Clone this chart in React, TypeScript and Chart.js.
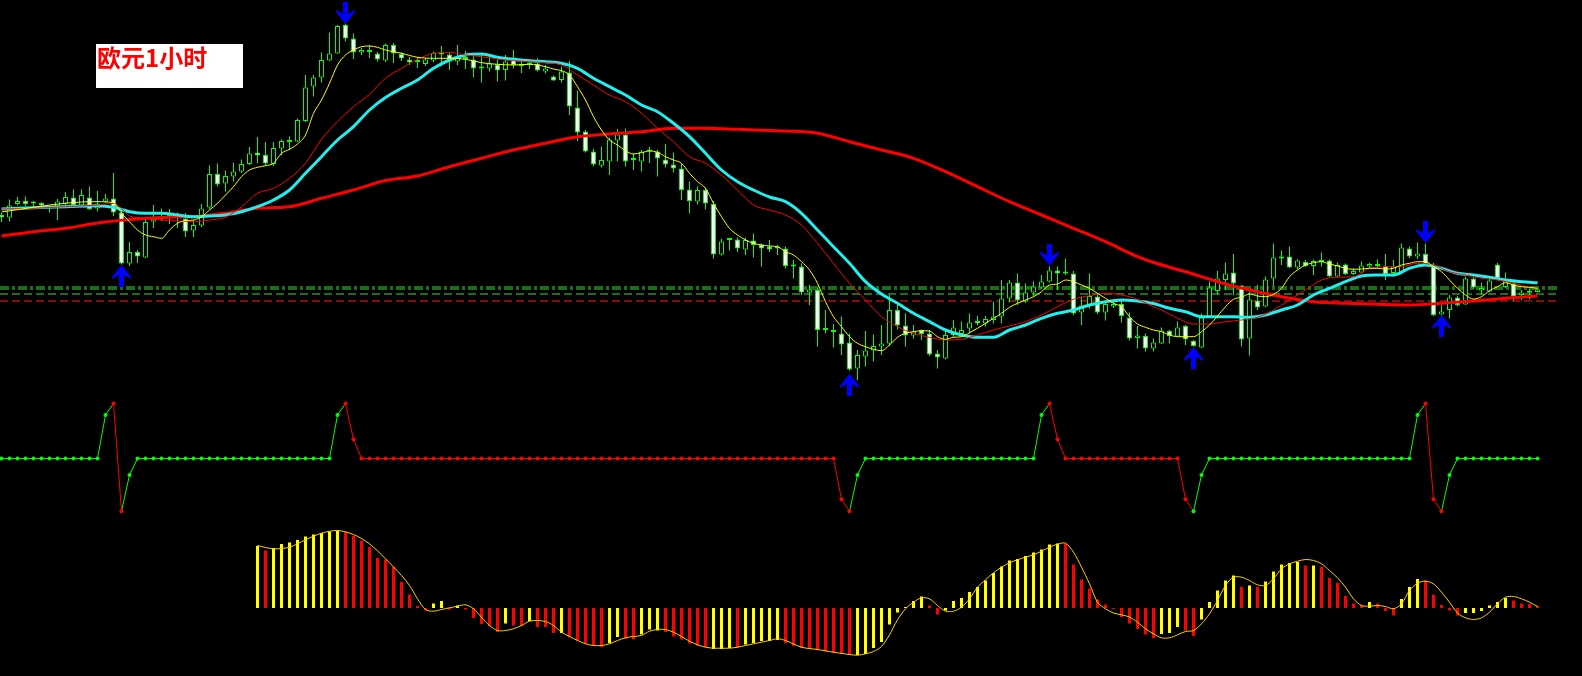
import React, { useEffect, useRef } from 'react';
import Chart from 'chart.js/auto';

const W = 1582;
const H = 676;
const X_MIN = -0.1875;
const X_MAX = 197.5625;

// EUR/USD 1H candles
const open = [
  1.1785, 1.17825, 1.1796, 1.1799, 1.17975, 1.1797, 1.17925, 1.17935, 1.17965, 1.18025,
  1.17945, 1.18025, 1.17915, 1.17985, 1.18015, 1.17875, 1.17365, 1.1748, 1.17425, 1.17785,
  1.17805, 1.1784, 1.1782, 1.17815, 1.17695, 1.17745, 1.17925, 1.1826, 1.18165, 1.18235,
  1.18285, 1.1836, 1.18475, 1.1845, 1.1836, 1.18515, 1.1858, 1.18585, 1.1879, 1.19135,
  1.19225, 1.19395, 1.19465, 1.1975, 1.19615, 1.19475, 1.19485, 1.19465, 1.19395, 1.1955,
  1.1946, 1.19405, 1.19385, 1.1936, 1.19395, 1.19475, 1.19455, 1.19385, 1.19415, 1.19405,
  1.1932, 1.19315, 1.19355, 1.193, 1.19425, 1.1934, 1.19355, 1.19365, 1.19285, 1.19235,
  1.192, 1.19275, 1.18925, 1.18685, 1.18485, 1.18345, 1.18385, 1.18595, 1.18655, 1.18405,
  1.18385, 1.18485, 1.18485, 1.18405, 1.18355, 1.18315, 1.18105, 1.17985, 1.181, 1.1796,
  1.17455, 1.176, 1.17605, 1.17505, 1.17595, 1.17555, 1.17535, 1.1752, 1.17515, 1.1734,
  1.17335, 1.17075, 1.171, 1.16705, 1.16685, 1.16665, 1.16575, 1.16315, 1.16435, 1.16495,
  1.16535, 1.16565, 1.169, 1.16745, 1.16645, 1.167, 1.16665, 1.16465, 1.16415, 1.1665,
  1.1666, 1.16715, 1.1679, 1.16765, 1.168, 1.16835, 1.17015, 1.17175, 1.16985, 1.17075,
  1.17125, 1.17185, 1.17295, 1.17285, 1.17265, 1.16875, 1.1694, 1.17035, 1.16875, 1.16935,
  1.1696, 1.16825, 1.1662, 1.1664, 1.16515, 1.16565, 1.1669, 1.16635, 1.1674, 1.1659,
  1.16525, 1.16825, 1.1709, 1.172, 1.17275, 1.17145, 1.16615, 1.16995, 1.16935, 1.17215,
  1.17415, 1.17435, 1.17325, 1.1738, 1.1734, 1.1738, 1.17395, 1.17235, 1.17355, 1.1726,
  1.17275, 1.17335, 1.1734, 1.1734, 1.1727, 1.17275, 1.17515, 1.17435, 1.1746, 1.1735,
  1.16855, 1.169, 1.17025, 1.16955, 1.17215, 1.17095, 1.17085, 1.17355, 1.1713, 1.17165,
  1.1705, 1.17075, 1.1708,
];
const high = [
  1.1787, 1.18005, 1.1803, 1.18035, 1.1799, 1.17975, 1.1794, 1.1801, 1.1808, 1.18105,
  1.18105, 1.18135, 1.1809, 1.1806, 1.1827, 1.17895, 1.1758, 1.175, 1.1783, 1.1795,
  1.17915, 1.1791, 1.17875, 1.1787, 1.178, 1.1796, 1.18345, 1.18365, 1.18295, 1.18375,
  1.18405, 1.1853, 1.1863, 1.1858, 1.1858, 1.18605, 1.18635, 1.18815, 1.1925, 1.1925,
  1.19475, 1.19675, 1.1975, 1.19775, 1.19665, 1.1952, 1.1955, 1.1948, 1.19565, 1.1957,
  1.1948, 1.1943, 1.1943, 1.1942, 1.19485, 1.1954, 1.1947, 1.1955, 1.1949, 1.1944,
  1.19465, 1.1943, 1.194, 1.1945, 1.195, 1.19395, 1.19385, 1.19415, 1.1935, 1.19245,
  1.19335, 1.1939, 1.19095, 1.187, 1.1851, 1.18535, 1.18625, 1.1871, 1.18715, 1.18465,
  1.185, 1.1853, 1.185, 1.1856, 1.18475, 1.18365, 1.18185, 1.18135, 1.18125, 1.1799,
  1.17615, 1.1761, 1.17625, 1.17625, 1.17665, 1.17565, 1.176, 1.1755, 1.17535, 1.174,
  1.17365, 1.1715, 1.17115, 1.169, 1.1676, 1.16835, 1.16665, 1.165, 1.1669, 1.16655,
  1.1675, 1.1705, 1.1696, 1.16865, 1.1675, 1.16705, 1.167, 1.165, 1.16705, 1.168,
  1.16785, 1.16865, 1.1684, 1.1684, 1.16985, 1.172, 1.172, 1.17265, 1.17165, 1.17185,
  1.1725, 1.17335, 1.17335, 1.17415, 1.1729, 1.17035, 1.17265, 1.17065, 1.16985, 1.17,
  1.17, 1.16875, 1.1674, 1.16665, 1.16615, 1.16725, 1.167, 1.16785, 1.1675, 1.166,
  1.16865, 1.17185, 1.1729, 1.17375, 1.1746, 1.1715, 1.17085, 1.1715, 1.17235, 1.17565,
  1.17495, 1.17535, 1.17405, 1.174, 1.17405, 1.17475, 1.17405, 1.17375, 1.17365, 1.17315,
  1.17385, 1.1737, 1.17405, 1.1746, 1.174, 1.17565, 1.17535, 1.17575, 1.17565, 1.1737,
  1.1695, 1.1705, 1.1704, 1.17235, 1.1723, 1.17175, 1.17235, 1.1737, 1.17275, 1.17185,
  1.171, 1.17115, 1.17115,
];
const low = [
  1.1778, 1.17785, 1.1795, 1.1794, 1.1792, 1.1793, 1.17875, 1.178, 1.1794, 1.1794,
  1.1793, 1.179, 1.17885, 1.1797, 1.1784, 1.17355, 1.1734, 1.1737, 1.1742, 1.1772,
  1.1779, 1.1776, 1.1772, 1.1763, 1.1763, 1.1773, 1.1791, 1.18135, 1.18085, 1.18185,
  1.1827, 1.1835, 1.1837, 1.1835, 1.1834, 1.18445, 1.185, 1.1858, 1.1878, 1.19035,
  1.19175, 1.1939, 1.1946, 1.19585, 1.1941, 1.1945, 1.1942, 1.19385, 1.1938, 1.1937,
  1.1939, 1.1935, 1.1932, 1.1934, 1.1938, 1.19335, 1.193, 1.1935, 1.1931, 1.19225,
  1.19175, 1.19285, 1.19185, 1.19195, 1.19315, 1.1927, 1.1931, 1.19285, 1.19265, 1.1919,
  1.19175, 1.1885, 1.1859, 1.18475, 1.1834, 1.18325, 1.1825, 1.18385, 1.18335, 1.183,
  1.18285, 1.1837, 1.18235, 1.18325, 1.18275, 1.18, 1.17865, 1.17955, 1.17905, 1.17415,
  1.17445, 1.17495, 1.1748, 1.1745, 1.17425, 1.17335, 1.1748, 1.1745, 1.17315, 1.17215,
  1.1705, 1.1695, 1.16535, 1.16665, 1.16525, 1.1645, 1.16295, 1.162, 1.16335, 1.16385,
  1.1645, 1.1654, 1.16705, 1.16535, 1.16615, 1.166, 1.1644, 1.16315, 1.16405, 1.1663,
  1.16635, 1.16665, 1.1675, 1.16735, 1.16765, 1.16765, 1.16975, 1.1695, 1.1697, 1.17035,
  1.1711, 1.17175, 1.171, 1.1725, 1.1685, 1.1675, 1.16915, 1.1686, 1.16795, 1.1692,
  1.16775, 1.16595, 1.16515, 1.16485, 1.16485, 1.1656, 1.16565, 1.1663, 1.1655, 1.16535,
  1.1652, 1.1682, 1.17055, 1.171, 1.1705, 1.16535, 1.16445, 1.169, 1.1693, 1.17135,
  1.1735, 1.1732, 1.1731, 1.1733, 1.1725, 1.17335, 1.1723, 1.1723, 1.1725, 1.1725,
  1.1727, 1.1732, 1.1732, 1.172, 1.17235, 1.1727, 1.1742, 1.1741, 1.1735, 1.1684,
  1.1685, 1.16815, 1.16935, 1.1695, 1.1711, 1.1705, 1.1708, 1.172, 1.1712, 1.16995,
  1.17, 1.17005, 1.17075,
];
const close = [
  1.17825, 1.17945, 1.1799, 1.1796, 1.17965, 1.17945, 1.1793, 1.17985, 1.1803, 1.1795,
  1.1805, 1.1791, 1.17965, 1.18015, 1.17875, 1.17365, 1.1748, 1.17435, 1.1778, 1.1781,
  1.1782, 1.1786, 1.1786, 1.17685, 1.1775, 1.17915, 1.1826, 1.18155, 1.1824, 1.18285,
  1.1836, 1.18465, 1.18445, 1.18365, 1.1852, 1.1859, 1.18585, 1.188, 1.19125, 1.19225,
  1.194, 1.19465, 1.1974, 1.19615, 1.19475, 1.195, 1.1948, 1.19405, 1.1955, 1.19465,
  1.19415, 1.19375, 1.1938, 1.19405, 1.1947, 1.19455, 1.19385, 1.19425, 1.1941, 1.19315,
  1.19315, 1.19365, 1.19295, 1.19385, 1.1935, 1.19355, 1.1936, 1.19295, 1.19315, 1.19195,
  1.19285, 1.18935, 1.18675, 1.18485, 1.18355, 1.184, 1.18605, 1.18655, 1.18385, 1.184,
  1.18485, 1.1849, 1.18415, 1.18355, 1.18315, 1.181, 1.1799, 1.181, 1.17965, 1.17455,
  1.17585, 1.17605, 1.17515, 1.176, 1.1755, 1.17515, 1.17505, 1.17515, 1.1734, 1.17335,
  1.17075, 1.17105, 1.167, 1.167, 1.1668, 1.16555, 1.16305, 1.1645, 1.16495, 1.1654,
  1.16565, 1.169, 1.16745, 1.16645, 1.16685, 1.1666, 1.16455, 1.16425, 1.1665, 1.16725,
  1.167, 1.16775, 1.16765, 1.1681, 1.16835, 1.17015, 1.17175, 1.16995, 1.17075, 1.17135,
  1.17185, 1.17295, 1.17265, 1.17265, 1.16865, 1.16945, 1.1704, 1.16875, 1.1696, 1.1696,
  1.1684, 1.16615, 1.16645, 1.16515, 1.16575, 1.16695, 1.1664, 1.16725, 1.16605, 1.1654,
  1.16825, 1.17125, 1.17215, 1.17265, 1.17165, 1.16605, 1.17005, 1.16925, 1.17205, 1.17425,
  1.17435, 1.17325, 1.17395, 1.1734, 1.1739, 1.1739, 1.17235, 1.1735, 1.1726, 1.1729,
  1.17345, 1.1736, 1.17345, 1.1726, 1.17335, 1.17525, 1.17435, 1.17465, 1.1736, 1.1685,
  1.16885, 1.17025, 1.1695, 1.17215, 1.17125, 1.1712, 1.17195, 1.17215, 1.17195, 1.17035,
  1.17075, 1.17072, 1.17105,
];

// Moving averages: [bar index, price]
const maFast = [
  [0, 1.1788], [4, 1.17927], [6, 1.1795], [8, 1.17967], [10, 1.1798], [12, 1.17983], [14, 1.17973], [15, 1.1787],
  [16, 1.17783], [17, 1.177], [18, 1.1765], [19, 1.17633], [20, 1.17617], [21, 1.177], [22, 1.17767], [23, 1.17793],
  [24, 1.178], [25, 1.17833], [26, 1.179], [27, 1.17967], [28, 1.1805], [29, 1.18133], [30, 1.18233], [31, 1.183],
  [32, 1.18327], [33, 1.18343], [34, 1.18367], [35, 1.18467], [36, 1.18507], [37, 1.1856], [38, 1.1865], [39, 1.18867],
  [40, 1.19], [41, 1.19167], [42, 1.1935], [43, 1.1945], [44, 1.195], [45, 1.19533], [46, 1.1954], [47, 1.19527],
  [48, 1.195], [49, 1.19483], [50, 1.19467], [52, 1.19427], [54, 1.19417], [56, 1.19417], [58, 1.19407], [60, 1.19373],
  [62, 1.19357], [64, 1.1935], [66, 1.19357], [68, 1.19333], [69, 1.1931], [70, 1.19293], [71, 1.1925], [72, 1.19133],
  [73, 1.19], [74, 1.18833], [75, 1.187], [76, 1.186], [77, 1.1855], [78, 1.18493], [79, 1.1846], [80, 1.18473],
  [81, 1.1849], [82, 1.18477], [83, 1.18433], [84, 1.184], [85, 1.18367], [86, 1.18267], [87, 1.18183], [88, 1.18117],
  [89, 1.17967], [90, 1.17833], [91, 1.17717], [92, 1.1765], [93, 1.176], [94, 1.17567], [95, 1.1755], [96, 1.1754],
  [97, 1.17533], [98, 1.17483], [99, 1.1745], [100, 1.17383], [101, 1.173], [102, 1.17167], [103, 1.16983], [104, 1.16833],
  [105, 1.16733], [106, 1.16633], [107, 1.16567], [108, 1.16533], [109, 1.16507], [110, 1.16493], [111, 1.1655], [112, 1.16627],
  [113, 1.16667], [114, 1.16683], [115, 1.16693], [116, 1.1669], [117, 1.16633], [118, 1.16607], [119, 1.16627], [120, 1.16633],
  [121, 1.16673], [122, 1.16717], [123, 1.16767], [124, 1.16817], [125, 1.16867], [126, 1.16927], [127, 1.16967], [128, 1.17],
  [129, 1.17033], [130, 1.17083], [131, 1.1715], [132, 1.1716], [133, 1.172], [134, 1.17183], [135, 1.1715], [136, 1.17117],
  [137, 1.17067], [138, 1.17017], [139, 1.16967], [140, 1.16933], [141, 1.16833], [142, 1.1676], [143, 1.16727], [144, 1.167],
  [145, 1.16683], [146, 1.1665], [147, 1.16633], [148, 1.16633], [149, 1.16633], [150, 1.16683], [151, 1.1675], [152, 1.1684],
  [153, 1.16933], [154, 1.17007], [155, 1.17027], [156, 1.1706], [157, 1.1704], [158, 1.17033], [159, 1.17057], [160, 1.17117],
  [161, 1.17233], [162, 1.173], [163, 1.1735], [164, 1.17373], [165, 1.17383], [166, 1.1736], [167, 1.1734], [168, 1.17317],
  [169, 1.17307], [170, 1.1731], [171, 1.17317], [172, 1.17317], [173, 1.1731], [174, 1.17317], [175, 1.1735], [176, 1.17367],
  [177, 1.17383], [178, 1.17383], [179, 1.17333], [180, 1.17283], [181, 1.172], [182, 1.17117], [183, 1.1705], [184, 1.1701],
  [185, 1.17033], [186, 1.17093], [187, 1.17133], [188, 1.17173], [189, 1.1715], [190, 1.17133], [191, 1.17127], [192, 1.17117],
];
const maMid = [
  [0, 1.1791], [4, 1.17917], [8, 1.17933], [12, 1.1795], [14, 1.17965], [15, 1.17917], [16, 1.1784], [18, 1.17817],
  [20, 1.178], [22, 1.1779], [24, 1.17783], [26, 1.178], [28, 1.17827], [30, 1.17933], [32, 1.18067], [34, 1.18117],
  [36, 1.18217], [38, 1.18367], [40, 1.18607], [42, 1.18783], [44, 1.18933], [46, 1.19057], [48, 1.19217], [50, 1.19317],
  [52, 1.19407], [54, 1.19467], [56, 1.19477], [58, 1.1945], [60, 1.19433], [62, 1.19407], [64, 1.19393], [66, 1.19383],
  [68, 1.19373], [70, 1.1935], [72, 1.1925], [74, 1.1915], [76, 1.1905], [78, 1.18983], [80, 1.18867], [82, 1.18717],
  [84, 1.18583], [86, 1.18433], [88, 1.18367], [90, 1.1825], [92, 1.181], [94, 1.1795], [96, 1.179], [98, 1.1785],
  [100, 1.1775], [102, 1.17567], [104, 1.17367], [106, 1.17167], [108, 1.17], [110, 1.16833], [112, 1.16733], [114, 1.16667],
  [116, 1.16627], [118, 1.166], [120, 1.16607], [122, 1.1665], [124, 1.167], [126, 1.1674], [128, 1.16783], [130, 1.1685],
  [132, 1.16933], [134, 1.17007], [136, 1.17043], [138, 1.17067], [140, 1.1705], [142, 1.17007], [144, 1.16933], [145, 1.169],
  [147, 1.16817], [149, 1.1676], [151, 1.1676], [153, 1.16783], [155, 1.168], [157, 1.16827], [159, 1.169], [161, 1.17],
  [163, 1.171], [165, 1.172], [167, 1.17227], [169, 1.17233], [171, 1.17317], [173, 1.17333], [175, 1.17333], [177, 1.17367],
  [179, 1.1735], [181, 1.17283], [183, 1.1725], [185, 1.17217], [187, 1.172], [189, 1.17167], [191, 1.17127], [192, 1.17117],
];
const maSlow = [
  [0, 1.1791], [4, 1.17923], [8, 1.17933], [12, 1.17943], [14, 1.17927], [16, 1.17883], [18, 1.17867], [20, 1.17867],
  [22, 1.1785], [24, 1.17833], [26, 1.1784], [28, 1.1785], [30, 1.17883], [32, 1.17933], [34, 1.18], [36, 1.181],
  [38, 1.18267], [40, 1.18433], [42, 1.186], [44, 1.18733], [46, 1.189], [48, 1.19025], [50, 1.19117], [52, 1.192],
  [54, 1.19317], [56, 1.194], [58, 1.1945], [60, 1.1946], [62, 1.19427], [64, 1.19407], [66, 1.19393], [68, 1.19383],
  [70, 1.19367], [72, 1.19317], [74, 1.19217], [76, 1.19133], [78, 1.1905], [80, 1.1895], [82, 1.18883], [84, 1.18767],
  [86, 1.18633], [88, 1.18467], [90, 1.183], [92, 1.18183], [94, 1.181], [96, 1.1803], [98, 1.17983], [100, 1.17867],
  [102, 1.177], [104, 1.17533], [106, 1.17367], [108, 1.17183], [110, 1.1706], [112, 1.16967], [114, 1.16867], [116, 1.16783],
  [118, 1.167], [120, 1.1665], [122, 1.16627], [124, 1.16627], [126, 1.167], [128, 1.1675], [130, 1.16817], [132, 1.16867],
  [134, 1.169], [136, 1.1695], [138, 1.16983], [140, 1.17], [142, 1.1699], [144, 1.16965], [146, 1.16917], [148, 1.16883],
  [150, 1.16833], [152, 1.16833], [154, 1.16833], [156, 1.16827], [158, 1.1685], [160, 1.169], [162, 1.1695], [164, 1.1705],
  [166, 1.17117], [168, 1.17183], [170, 1.1724], [172, 1.1725], [174, 1.1725], [176, 1.17317], [178, 1.1735], [180, 1.17317],
  [182, 1.17267], [184, 1.1725], [186, 1.17227], [188, 1.172], [190, 1.17183], [192, 1.17173],
];
const maLong = [
  [0, 1.1764], [4, 1.17683], [8, 1.17717], [12, 1.1777], [16, 1.17805], [20, 1.17825], [24, 1.17835], [28, 1.17867],
  [32, 1.17917], [36, 1.17933], [40, 1.18017], [44, 1.181], [48, 1.18195], [52, 1.1824], [56, 1.18333], [60, 1.18417],
  [64, 1.185], [68, 1.18567], [72, 1.18633], [76, 1.1866], [80, 1.18683], [84, 1.18717], [88, 1.18717], [92, 1.18707],
  [96, 1.18695], [98, 1.1869], [102, 1.18667], [106, 1.18583], [110, 1.185], [114, 1.18417], [118, 1.18283], [122, 1.18133],
  [126, 1.17983], [130, 1.1785], [134, 1.17717], [138, 1.17583], [142, 1.17433], [144, 1.17375], [148, 1.17283], [152, 1.17183],
  [156, 1.171], [160, 1.17033], [164, 1.16983], [168, 1.16967], [172, 1.16957], [176, 1.1695], [180, 1.16967], [184, 1.1699],
  [188, 1.17017], [192, 1.1704],
];

// Horizontal levels
const levelDashDot = [1.1713, 1.1711];
const levelGreenDash = [1.1706];
const levelRedDash = [1.1699];
const LEVEL_END = 194.6;

// Signal arrows: [bar index, price]
const buyArrows = [[15, 1.1724], [106, 1.1615], [149, 1.1642], [180, 1.1674]];
const sellArrows = [[43, 1.1987], [131, 1.17455], [178, 1.1768]];

// Oscillator panel (one value per bar)
const oscillator = [
  0, 0, 0, 0, 0, 0, 0, 0, 0, 0,
  0, 0, 0, 79, 100, -96, -30, 0, 0, 0,
  0, 0, 0, 0, 0, 0, 0, 0, 0, 0,
  0, 0, 0, 0, 0, 0, 0, 0, 0, 0,
  0, 0, 79, 100, 35, 0, 0, 0, 0, 0,
  0, 0, 0, 0, 0, 0, 0, 0, 0, 0,
  0, 0, 0, 0, 0, 0, 0, 0, 0, 0,
  0, 0, 0, 0, 0, 0, 0, 0, 0, 0,
  0, 0, 0, 0, 0, 0, 0, 0, 0, 0,
  0, 0, 0, 0, 0, 0, 0, 0, 0, 0,
  0, 0, 0, 0, 0, -74, -96, -30, 0, 0,
  0, 0, 0, 0, 0, 0, 0, 0, 0, 0,
  0, 0, 0, 0, 0, 0, 0, 0, 0, 0,
  79, 100, 35, 0, 0, 0, 0, 0, 0, 0,
  0, 0, 0, 0, 0, 0, 0, 0, -74, -96,
  -30, 0, 0, 0, 0, 0, 0, 0, 0, 0,
  0, 0, 0, 0, 0, 0, 0, 0, 0, 0,
  0, 0, 0, 0, 0, 0, 0, 79, 100, -74,
  -96, -30, 0, 0, 0, 0, 0, 0, 0, 0,
  0, 0, 0,
];
// Oscillator trend state runs: G = up (green), R = down (red)
const oscillatorStateRuns = [['G', 14], ['R', 2], ['G', 27], ['R', 64], ['G', 24], ['R', 18], ['G', 29], ['R', 3], ['G', 12]];

// MACD-style histogram (x1e-5), starting at bar 32
const HIST_START = 32;
const histogram = [
  62, 57.5, 60, 64, 65.5, 68, 71.5, 73.5, 75, 76.5,
  77, 76, 72, 67.5, 61, 50, 48.5, 41, 26, 13.5,
  2, -2.5, 4.5, 7, -1.5, 2.5, -1.5, -10, -16, -18,
  -24, -15.5, -17.5, -18, -13, -19, -19, -25, -25, -29,
  -32.5, -35.5, -37.5, -39, -35, -29, -30.5, -31.5, -26.5, -21.5,
  -22.5, -24, -28.5, -31.5, -35.5, -37.5, -39, -41, -41, -40,
  -40, -36.5, -35, -33, -33, -32, -35, -38, -40, -41,
  -42, -43.5, -45, -46, -47, -47, -46, -40, -34, -16.5,
  -4.5, 1, 7, 11.5, 2.5, -6.5, -2.5, 7, 10, 16,
  21, 27.5, 35, 41.5, 47.5, 49, 52, 55.5, 58.5, 63.5,
  64.5, 64, 43.5, 28.5, 19.5, 8.5, 3.5, -1, -9, -15.5,
  -21, -26.5, -30, -26, -25, -19, -22.5, -28, -11.5, 6,
  17.5, 27.5, 32.5, 21, 22.5, 21, 26.5, 36.5, 43.5, 45,
  46, 42.5, 42.5, 41, 30, 25, 12, 4.5, 3, 6,
  4.5, -3, -7.5, 9, 21, 29, 27.5, 13.5, 3, -2.5,
  -7.5, -5, -5, -3, 2.5, 6, 10, 7.5, 4.5, 4,
  2,
];
const histogramColors =
  'YRYYYYYYYYYRRRRRRRRRRRYYRYRRRRRYRRYRRRYRRRRRYYRRYYYRRRRRRYYYRYYYYYRRRRRRRRRYYYYYYYYYRRYYYYYYYYYYYYYYYRRRRRRRRRRRRYYYRRYYYYYRYRYYYYYRYRRRRRRYRRRYYYRRRRRYYYYYYRRRR';
const signalLine = [
  [32, 62.5], [34, 59.2], [36, 60.8], [38, 68.2], [40, 74.8], [42, 77.5], [44, 73.5], [46, 64.2], [48, 49.2], [50, 32.5],
  [51, 22.5], [52, 9.2], [53, -1.5], [54, -3.2], [55, -1.5], [56, 0.2], [57, 1.8], [58, 3.2], [59, -0.8], [60, -9.2],
  [61, -17.5], [62, -22.5], [63, -22.5], [64, -20.8], [65, -17.5], [66, -13.2], [67, -12.5], [68, -13.5], [69, -17.5], [70, -24.2],
  [71, -28.5], [72, -32.5], [73, -35.8], [74, -37.5], [75, -37.5], [76, -35.8], [77, -32.5], [78, -29.8], [79, -28.5], [80, -27.5],
  [81, -23.2], [82, -21.5], [83, -21.5], [84, -24.2], [85, -28.5], [86, -33.2], [87, -36.8], [88, -39.2], [89, -40.2], [90, -40.2],
  [91, -40.2], [92, -39.2], [93, -37.5], [95, -34.2], [96, -32.5], [97, -30.8], [98, -32.5], [100, -39.2], [102, -41.5], [104, -44.2],
  [106, -46.5], [107, -47.2], [108, -45.8], [109, -43.5], [110, -38.5], [111, -26.8], [112, -11.8], [113, -0.8], [114, 5.8], [115, 10.2],
  [116, 9.2], [117, 2.5], [118, -3.2], [119, -3.2], [120, 0.8], [121, 9.2], [122, 20.8], [123, 28.2], [124, 35.2], [125, 40.8],
  [126, 45.2], [127, 48.2], [128, 50.8], [129, 53.2], [130, 56.8], [131, 60.8], [132, 63.8], [133, 64.8], [134, 55.8], [135, 40.8],
  [136, 24.2], [137, 5.8], [138, -0.8], [139, -5], [140, -6.8], [141, -9], [142, -14.2], [143, -20.8], [144, -25.8], [145, -29.8],
  [146, -29.8], [147, -26.8], [148, -23.5], [149, -22.5], [150, -15.8], [151, -5.8], [152, 7.5], [153, 22.5], [154, 30.8], [155, 30.8],
  [156, 27.5], [157, 23.2], [158, 22.5], [159, 29.2], [160, 39.2], [161, 44.2], [162, 46.8], [163, 48.5], [164, 47.5], [165, 44.2],
  [166, 37.5], [167, 30.2], [168, 20.8], [169, 9.2], [170, 2.5], [171, 1.8], [172, 2.5], [173, 1.5], [174, -0.8], [175, 4.2],
  [176, 17.5], [177, 24.8], [178, 26.8], [179, 24.2], [180, 15.8], [181, 5.8], [182, -5], [183, -9.8], [184, -11.5], [185, -9.8],
  [186, -4.2], [187, 4.2], [188, 10.8], [189, 11.5], [190, 9.2], [191, 5.8], [192, 1.5],
];

const GREEN = '#00ff00';
const RED = '#ff0000';
const YELLOW = '#ffff00';
const LEVEL_GREEN = '#3fd83f';
const LEVEL_RED = '#ff1a1a';

function makeArrow(up: boolean): HTMLCanvasElement {
  const c = document.createElement('canvas');
  c.width = 19;
  c.height = 22;
  const g = c.getContext('2d')!;
  g.fillStyle = '#0000ff';
  const pts = [[7, 0], [12, 0], [12, 12], [19, 8], [19, 10], [9.5, 22], [0, 10], [0, 8], [7, 12]];
  g.beginPath();
  pts.forEach(([x, y], k) => {
    const yy = up ? 22 - y : y;
    if (k === 0) g.moveTo(x, yy); else g.lineTo(x, yy);
  });
  g.closePath();
  g.fill();
  return c;
}

const baseOptions = (yMin: number, yMax: number): any => ({
  animation: false,
  responsive: false,
  events: [],
  layout: { padding: 0, autoPadding: false },
  plugins: { legend: { display: false }, tooltip: { enabled: false } },
  scales: {
    x: { type: 'linear', min: X_MIN, max: X_MAX, display: false, offset: false },
    y: { type: 'linear', min: yMin, max: yMax, display: false },
  },
});

const pairs = (arr: number[][]) => arr.map(([x, y]) => ({ x, y }));

export default function App() {
  const mainRef = useRef<HTMLCanvasElement>(null);
  const oscRef = useRef<HTMLCanvasElement>(null);
  const histRef = useRef<HTMLCanvasElement>(null);

  useEffect(() => {
    const idx = open.map((_, i) => i);
    const upImg = makeArrow(true);
    const downImg = makeArrow(false);

    const levelDataset = (price: number, color: string, dash: number[]) => ({
      type: 'line',
      data: [{ x: X_MIN, y: price }, { x: LEVEL_END, y: price }],
      borderColor: color,
      borderWidth: 1,
      borderDash: dash,
      pointRadius: 0,
      order: 20,
    });

    const maDataset = (arr: number[][], color: string, width: number, order: number) => ({
      type: 'line',
      data: pairs(arr),
      borderColor: color,
      borderWidth: width,
      pointRadius: 0,
      cubicInterpolationMode: 'monotone',
      order,
    });

    const main = new Chart(mainRef.current!, {
      type: 'bar',
      data: {
        datasets: [
          ...levelDashDot.map((p) => levelDataset(p, LEVEL_GREEN, [9, 3, 3, 3])),
          ...levelGreenDash.map((p) => levelDataset(p, LEVEL_GREEN, [8, 4])),
          ...levelRedDash.map((p) => levelDataset(p, LEVEL_RED, [8, 4])),
          {
            type: 'bar',
            data: idx.map((i) => ({ x: i, y: [low[i], high[i]] })),
            backgroundColor: GREEN,
            borderWidth: 0,
            barThickness: 1,
            grouped: false,
            inflateAmount: 0,
            order: 12,
          },
          {
            type: 'bar',
            data: idx.map((i) => ({ x: i, y: [open[i], close[i]] })),
            backgroundColor: idx.map((i) => (close[i] >= open[i] ? '#000000' : '#ffffff')),
            borderColor: GREEN,
            borderWidth: 1,
            borderSkipped: false,
            barThickness: 5,
            grouped: false,
            inflateAmount: 0,
            minBarLength: 2,
            order: 11,
          },
          maDataset(maLong, RED, 3, 7),
          maDataset(maSlow, '#22eeee', 3, 6),
          maDataset(maMid, RED, 1, 5),
          maDataset(maFast, YELLOW, 1, 4),
          {
            type: 'line',
            data: pairs(buyArrows),
            showLine: false,
            pointStyle: upImg,
            pointRadius: 10,
            order: 1,
          },
          {
            type: 'line',
            data: pairs(sellArrows),
            showLine: false,
            pointStyle: downImg,
            pointRadius: 10,
            order: 1,
          },
        ] as any,
      },
      options: baseOptions(1.1324, 1.2),
    });

    const state: string[] = [];
    oscillatorStateRuns.forEach(([s, n]) => {
      for (let k = 0; k < (n as number); k++) state.push(s as string);
    });
    const stateColor = state.map((s) => (s === 'G' ? GREEN : RED));

    const osc = new Chart(oscRef.current!, {
      type: 'line',
      data: {
        datasets: [
          {
            data: oscillator.map((v, i) => ({ x: i, y: v })),
            borderWidth: 1,
            pointRadius: 2,
            pointBorderWidth: 0,
            pointBackgroundColor: stateColor,
            borderColor: GREEN,
            segment: {
              borderColor: (ctx: any) => {
                const a = ctx.p0.parsed.y;
                const b = ctx.p1.parsed.y;
                if (b > a) return GREEN;
                if (b < a) return RED;
                return stateColor[ctx.p0DataIndex];
              },
            },
          },
        ] as any,
      },
      options: baseOptions(-395.5, 833.6),
    });

    const hist = new Chart(histRef.current!, {
      type: 'bar',
      data: {
        datasets: [
          {
            type: 'bar',
            data: histogram.map((v, k) => ({ x: HIST_START + k, y: v })),
            backgroundColor: histogram.map((_, k) => (histogramColors[k] === 'Y' ? YELLOW : RED)),
            borderWidth: 0,
            barThickness: 3,
            grouped: false,
            inflateAmount: 0,
            order: 2,
          },
          {
            type: 'line',
            data: pairs(signalLine),
            borderColor: '#ffd400',
            borderWidth: 1,
            pointRadius: 0,
            tension: 0.3,
            order: 1,
          },
        ] as any,
      },
      options: baseOptions(-68, 608),
    });

    return () => {
      main.destroy();
      osc.destroy();
      hist.destroy();
    };
  }, []);

  const canvasStyle: React.CSSProperties = { position: 'absolute', left: 0, top: 0, width: W, height: H };

  return (
    <div style={{ position: 'fixed', left: 0, top: 0, width: W, height: H, background: '#000', overflow: 'hidden' }}>
      <canvas ref={mainRef} width={W} height={H} style={canvasStyle} />
      <canvas ref={oscRef} width={W} height={H} style={canvasStyle} />
      <canvas ref={histRef} width={W} height={H} style={canvasStyle} />
      <div
        style={{
          position: 'absolute',
          left: 96,
          top: 44,
          width: 147,
          height: 44,
          boxSizing: 'border-box',
          background: '#ffffff',
          color: '#ff0000',
          fontFamily: '"Noto Sans CJK SC", sans-serif',
          fontWeight: 'bold',
          fontSize: 24,
          lineHeight: '24px',
          paddingLeft: 1,
          paddingTop: 1,
          whiteSpace: 'nowrap',
          zIndex: 5,
        }}
      >
        欧元1小时
      </div>
    </div>
  );
}
